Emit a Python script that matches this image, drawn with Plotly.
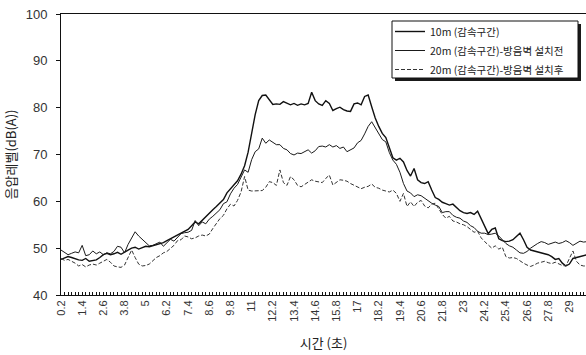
import plotly.graph_objects as go

# Measurement time (s), sampled every 0.2 s
time_s = [
    0.2, 0.4, 0.6, 0.8, 1.0, 1.2, 1.4, 1.6, 1.8, 2.0,
    2.2, 2.4, 2.6, 2.8, 3.0, 3.2, 3.4, 3.6, 3.8, 4.0,
    4.2, 4.4, 4.6, 4.8, 5.0, 5.2, 5.4, 5.6, 5.8, 6.0,
    6.2, 6.4, 6.6, 6.8, 7.0, 7.2, 7.4, 7.6, 7.8, 8.0,
    8.2, 8.4, 8.6, 8.8, 9.0, 9.2, 9.4, 9.6, 9.8, 10.0,
    10.2, 10.4, 10.6, 10.8, 11.0, 11.2, 11.4, 11.6, 11.8, 12.0,
    12.2, 12.4, 12.6, 12.8, 13.0, 13.2, 13.4, 13.6, 13.8, 14.0,
    14.2, 14.4, 14.6, 14.8, 15.0, 15.2, 15.4, 15.6, 15.8, 16.0,
    16.2, 16.4, 16.6, 16.8, 17.0, 17.2, 17.4, 17.6, 17.8, 18.0,
    18.2, 18.4, 18.6, 18.8, 19.0, 19.2, 19.4, 19.6, 19.8, 20.0,
    20.2, 20.4, 20.6, 20.8, 21.0, 21.2, 21.4, 21.6, 21.8, 22.0,
    22.2, 22.4, 22.6, 22.8, 23.0, 23.2, 23.4, 23.6, 23.8, 24.0,
    24.2, 24.4, 24.6, 24.8, 25.0, 25.2, 25.4, 25.6, 25.8, 26.0,
    26.2, 26.4, 26.6, 26.8, 27.0, 27.2, 27.4, 27.6, 27.8, 28.0,
    28.2, 28.4, 28.6, 28.8, 29.0, 29.2, 29.4, 29.6, 29.8, 30.0,
]

# 10m (deceleration section)
level_10m = [
    47.6, 47.9, 48.2, 48.0, 47.7, 47.5, 47.4, 47.8, 47.2, 47.4,
    47.5, 48.0, 48.6, 48.9, 48.6, 48.8, 49.1, 48.7, 49.2, 49.6,
    50.0, 50.2, 49.8, 50.1, 50.4, 50.3, 50.5, 50.8, 51.0, 51.2,
    51.6, 52.0, 52.4, 52.9, 53.2, 53.6, 54.0, 54.8, 55.6, 55.2,
    56.0, 56.8, 57.4, 58.2, 58.9, 59.6, 60.4, 61.8, 62.6, 63.4,
    64.4, 65.8, 67.6, 70.5, 74.5, 78.5, 81.5, 82.6, 82.7, 81.8,
    80.7, 80.8, 80.7, 81.3, 81.0, 80.6, 80.9, 80.5, 80.8, 80.6,
    80.9, 83.3, 81.5, 80.8, 80.5, 81.5, 80.9, 79.4, 79.8, 80.1,
    79.6, 79.3, 79.2, 80.8, 81.0, 80.6, 82.4, 82.7, 80.2, 77.8,
    76.0, 74.5, 73.6, 71.4, 69.3, 68.8, 69.2, 68.4, 66.6, 65.4,
    67.0, 64.6, 64.0, 63.8, 64.2, 62.4, 60.8, 60.4, 59.8, 59.5,
    59.2, 59.4, 58.6, 58.0, 57.6, 57.4, 57.6, 57.2, 57.9, 56.2,
    54.6, 53.1, 54.0, 54.3, 52.0, 51.6, 51.4, 51.5, 51.8, 52.6,
    53.2, 51.8, 50.2, 49.6, 49.4, 49.2, 48.9, 48.8, 48.6, 48.2,
    47.6, 47.8, 46.8, 46.2, 46.6, 47.8, 48.0, 48.3, 48.4, 48.6,
]

# 20m (deceleration section), before the noise barrier
level_20m_before = [
    49.6, 49.0, 48.6, 48.9, 49.2, 49.0, 50.6, 48.4, 48.6, 49.4,
    48.8, 49.2, 48.6, 49.0, 48.8, 49.3, 50.4, 50.2, 49.0, 50.8,
    52.2, 53.5, 52.6, 51.9, 51.2, 50.5, 50.6, 50.9, 51.3, 50.4,
    51.2, 51.9, 51.5, 52.4, 53.1, 53.3, 53.4, 53.8, 55.9, 54.8,
    55.6, 55.2, 56.2, 56.8, 57.6, 58.2, 59.5, 59.9, 61.6, 62.8,
    63.6, 65.2, 66.7, 66.2, 68.9, 70.6, 71.2, 73.5, 72.4, 73.1,
    72.6, 72.1, 72.1, 71.3, 71.0, 70.2, 69.9, 70.3, 70.2, 70.6,
    71.0, 70.3, 70.8, 71.7, 71.8, 71.6, 72.1, 71.6, 71.9, 71.3,
    71.6, 70.6, 71.0, 71.4, 72.5, 73.0, 74.4, 76.0, 77.0, 75.8,
    74.6, 73.2, 72.7, 70.4, 68.8, 67.9, 66.2, 63.8, 62.2, 61.8,
    61.0, 61.4, 61.2, 60.6, 60.1, 59.6, 59.2, 58.9, 57.6, 57.8,
    57.8, 57.0, 56.6, 56.4, 55.8, 55.5, 54.8, 54.4, 53.6, 53.2,
    53.2, 52.9, 53.0, 53.2, 52.6, 51.8, 51.0, 50.5, 50.2, 49.6,
    49.0, 48.9, 49.3, 50.0, 50.6, 51.0, 51.4, 51.2, 50.8, 51.0,
    51.3, 51.0, 51.2, 51.6, 51.2, 50.6, 51.0, 51.5, 51.3, 51.4,
]

# 20m (deceleration section), after the noise barrier
level_20m_after = [
    47.8, 47.4, 47.6, 47.2, 46.8, 46.2, 46.5, 46.0, 46.4, 46.6,
    46.4, 46.8, 47.2, 47.6, 47.0, 46.2, 46.0, 45.9, 46.4, 48.0,
    49.6, 48.0, 46.6, 46.2, 46.3, 46.6, 47.4, 48.0, 48.4, 49.0,
    49.3, 49.9, 50.6, 51.6, 51.8, 52.6, 52.4, 52.0, 52.2, 52.6,
    52.8, 52.6, 53.0, 54.2, 55.2, 56.3, 57.0, 58.4, 59.4, 59.0,
    60.2, 62.0, 65.3, 62.4, 62.2, 62.2, 62.3, 62.3, 63.0, 64.2,
    64.0, 63.4, 66.7, 64.0, 63.4, 65.3, 64.6, 63.4, 63.1, 63.6,
    64.0, 64.6, 64.3, 64.1, 64.0, 64.9, 65.6, 63.5, 64.0, 64.6,
    64.5, 64.3, 63.8, 63.4, 63.0, 62.7, 63.0, 63.2, 63.7, 63.0,
    62.8, 62.4, 62.2, 62.0, 62.4, 61.7, 60.0, 61.7, 58.9, 59.9,
    58.9, 59.8, 60.2, 59.0, 58.6, 59.4, 59.6, 58.4, 57.2, 56.4,
    56.8, 55.8, 55.6, 55.2, 55.0, 54.6, 54.0, 53.4, 53.6, 52.2,
    51.4, 50.8, 50.0, 50.5, 49.8, 50.2, 48.2, 47.9, 48.0, 47.8,
    47.2, 46.8, 46.4, 46.1, 46.4, 46.8, 47.0, 47.2, 46.9, 46.7,
    47.0, 46.6, 46.3, 46.2, 48.0, 49.4, 47.2, 46.4, 46.2, 46.2,
]

series_names = [
    "10m (감속구간)",
    "20m (감속구간)-방음벽 설치전",
    "20m (감속구간)-방음벽 설치후",
]

tick_positions = [0.2, 1.4, 2.6, 3.8, 5.0, 6.2, 7.4, 8.6, 9.8, 11.0, 12.2, 13.4, 14.6,
                  15.8, 17.0, 18.2, 19.4, 20.6, 21.8, 23.0, 24.2, 25.4, 26.6, 27.8, 29.0]
tick_labels = ["0.2", "1.4", "2.6", "3.8", "5", "6.2", "7.4", "8.6", "9.8", "11", "12.2", "13.4", "14.6",
               "15.8", "17", "18.2", "19.4", "20.6", "21.8", "23", "24.2", "25.4", "26.6", "27.8", "29"]

FONT = "Liberation Sans, Arial, Noto Sans CJK KR, sans-serif"
KFONT = "Noto Sans CJK KR, Liberation Sans, sans-serif"

fig = go.Figure()
fig.add_trace(go.Scatter(x=time_s, y=level_10m, mode="lines", name=series_names[0],
                         line=dict(color="#111111", width=1.4)))
fig.add_trace(go.Scatter(x=time_s, y=level_20m_before, mode="lines", name=series_names[1],
                         line=dict(color="#1a1a1a", width=1.0)))
fig.add_trace(go.Scatter(x=time_s, y=level_20m_after, mode="lines", name=series_names[2],
                         line=dict(color="#333333", width=1.0, dash="4px,2px")))

W, H = 586, 355
ML, MR, MT, MB = 61, 0, 14, 60
pw, ph = W - ML - MR, H - MT - MB

def px_x(x):
    return (x - ML) / pw

def px_y(y):
    return (H - MB - y) / ph

# legend frame: drop shadow, then white box with a dark border
fig.add_shape(type="rect", xref="paper", yref="paper",
              x0=px_x(395), x1=px_x(581), y0=px_y(81), y1=px_y(24),
              fillcolor="#1a1a1a", line=dict(width=0), layer="above")
fig.add_shape(type="rect", xref="paper", yref="paper",
              x0=px_x(392), x1=px_x(578), y0=px_y(78), y1=px_y(21),
              fillcolor="white", line=dict(color="#111111", width=1), layer="above")

fig.update_layout(
    width=W, height=H,
    margin=dict(l=ML, r=MR, t=MT, b=MB),
    paper_bgcolor="white", plot_bgcolor="white",
    font=dict(family=FONT, color="#333333", size=12),
    showlegend=True,
    legend=dict(x=px_x(390), y=px_y(17), xanchor="left", yanchor="top",
                bgcolor="rgba(0,0,0,0)", borderwidth=0,
                font=dict(family=KFONT, size=10.5, color="#222222"),
                tracegroupgap=0, itemwidth=30),
    xaxis=dict(range=[0.2, 0.2 + 148.7 * 0.2], tickmode="array",
               tickvals=tick_positions, ticktext=tick_labels, tickangle=-90,
               ticks="inside", ticklen=3, tickcolor="#111111",
               minor=dict(ticks="inside", ticklen=3, tickmode="linear",
                          tick0=0.2, dtick=0.2, tickcolor="#111111"),
               showline=True, linecolor="#111111", linewidth=1, mirror=True,
               showgrid=False, zeroline=False,
               tickfont=dict(size=11, color="#333333"),
               title=dict(text="시간 (초)", font=dict(family=KFONT, size=13, color="#222222"),
                          standoff=18)),
    yaxis=dict(range=[40, 100], tickmode="array", tickvals=[40, 50, 60, 70, 80, 90, 100],
               ticks="outside", ticklen=4, tickcolor="#111111", ticklabelstandoff=6,
               showline=True, linecolor="#111111", linewidth=1,
               showgrid=False, zeroline=False,
               tickfont=dict(size=13, color="#333333"),
               title=dict(text="음압레벨(dB(A))", font=dict(family=KFONT, size=13, color="#222222"),
                          standoff=6)),
)

fig.write_html("out.html")
